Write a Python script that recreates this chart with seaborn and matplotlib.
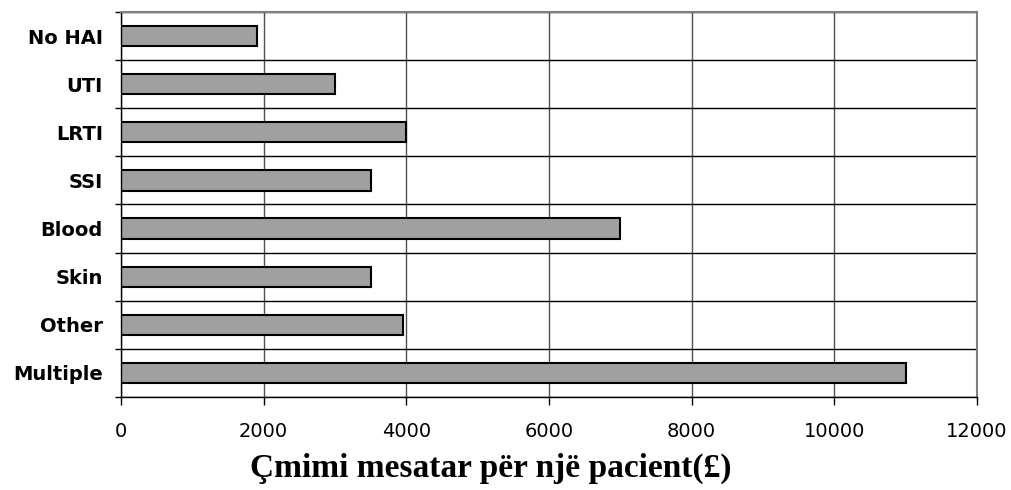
import matplotlib
matplotlib.use('Agg')
import matplotlib.pyplot as plt
import seaborn as sns
import pandas as pd
import numpy as np

# Data
categories = ['No HAI', 'UTI', 'LRTI', 'SSI', 'Blood', 'Skin', 'Other', 'Multiple']
cost_per_patient = [1900, 3000, 4000, 3500, 7000, 3500, 3950, 11000]
x_ticks = [0, 2000, 4000, 6000, 8000, 10000, 12000]

df = pd.DataFrame({'category': categories, 'cost': cost_per_patient})

sns.set_style('white')
plt.rcParams['font.family'] = ['DejaVu Sans']
plt.rcParams['text.color'] = 'black'
plt.rcParams['axes.labelcolor'] = 'black'
plt.rcParams['xtick.color'] = 'black'
plt.rcParams['ytick.color'] = 'black'

fig = plt.figure(figsize=(10.12, 4.9), dpi=100)
ax = fig.add_axes([121 / 1012, 1 - 397 / 490, (977 - 121) / 1012, (397 - 12) / 490])

sns.barplot(data=df, x='cost', y='category', orient='h', color='#a0a0a0',
            saturation=1, edgecolor='black', linewidth=1.5, width=0.42, ax=ax)

ax.set_xlim(0, 12000)
ax.set_ylim(len(categories) - 0.5, -0.5)
ax.set_xticks(x_ticks)
ax.set_xticklabels([str(t) for t in x_ticks], fontsize=14)
ax.set_yticks(range(len(categories)))
ax.set_yticklabels(categories, fontsize=14, fontweight='bold')

# gridlines at category boundaries
bounds = np.arange(-0.5, len(categories) + 0.5, 1)
ax.set_yticks(bounds, minor=True)
ax.tick_params(axis='y', which='major', left=False, length=0, pad=13)
ax.tick_params(axis='y', which='minor', left=True, length=4.5, direction='out', color='black', width=1)
ax.tick_params(axis='x', which='major', bottom=True, length=6, direction='out', color='black', width=1, pad=12)
ax.grid(axis='y', which='minor', color='black', linewidth=1)
ax.grid(axis='x', which='major', color='#505050', linewidth=1)
ax.set_axisbelow(True)

for side in ['top', 'right']:
    ax.spines[side].set_color('#808080')
    ax.spines[side].set_linewidth(1.5)
ax.spines['left'].set_color('black')
ax.spines['bottom'].set_color('black')
ax.spines['left'].set_linewidth(1)
ax.spines['bottom'].set_linewidth(1)

ax.set_ylabel('')
ax.set_xlabel('Çmimi mesatar për një pacient(£)', fontsize=24, fontweight='bold',
              color='black', family=['Liberation Serif', 'DejaVu Serif'])
ax.xaxis.set_label_coords(0.432, -0.186)
ax.xaxis.label.set_verticalalignment('center')

fig.savefig('out.png', dpi=100)
